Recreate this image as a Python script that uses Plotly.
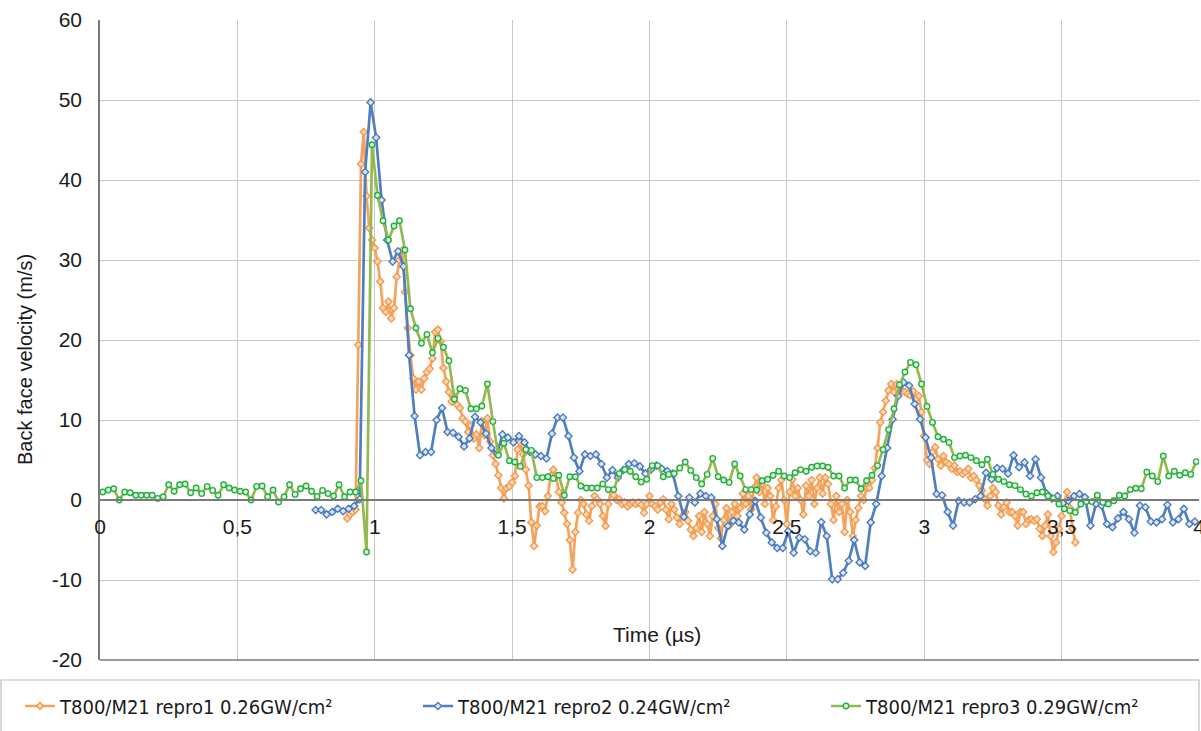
import numpy as np
import plotly.graph_objects as go

# ---------------- data ----------------
series_names = [
    "T800/M21 repro1 0.26GW/cm²",
    "T800/M21 repro2 0.24GW/cm²",
    "T800/M21 repro3 0.29GW/cm²",
]

# repro1 (orange): start 0.90 µs, step 0.01 µs
repro1_t0, repro1_dt = 0.90, 0.01
repro1_v = [
    -2.3, -1.8, -1.5, -1.2, 19.4, 42.0, 46.0, 38.0, 34.0, 32.5,      # 0.90
    31.5, 29.8, 27.3, 24.0, 23.5, 24.8, 22.7, 24.0, 27.9, 30.0,      # 1.00
    31.2, 26.0, 21.5, 18.1, 15.2, 13.8, 14.8, 13.8, 15.2, 16.0,      # 1.10
    16.4, 17.7, 21.0, 21.3, 19.8, 16.5, 14.8, 13.5, 12.3, 12.9,      # 1.20
    11.9, 11.5, 10.2, 9.8, 8.5, 9.3, 7.7, 8.2, 6.5, 9.8,             # 1.30
    8.1, 10.2, 7.3, 5.6, 4.5, 3.1, 1.5, 0.2, 1.5, 1.7,               # 1.40
    2.2, 3.0, 6.3, 7.2, 5.7, 3.8, 1.8, -2.8, -5.75, -3.2,            # 1.50
    -0.8, -0.75, -1.4, 0.5, 3.0, 3.8, 3.0, 1.0, -0.3, -1.6,          # 1.60
    -3.0, -5.0, -8.7, -4.0, -1.6, 0.0, -0.5, -1.8, -2.6, -0.75,      # 1.70
    0.5, 0.1, -0.5, -2.0, -3.25, -0.5, 1.1, 0.6, 0.0, 0.1,           # 1.80
    -0.5, -0.3, -0.8, -0.5, -0.3, -0.5, -0.3, -0.6, -1.6, -0.5,      # 1.90
    0.5, -0.5, -0.8, -1.2, -0.3, 0.1, -1.2, -2.4, -0.5, -1.2,        # 2.00
    -2.2, -3.0, -2.0, -1.5, -2.6, -3.7, -4.5, -3.5, -2.0, -4.0,      # 2.10
    -1.5, -3.0, -4.5, -2.0, -0.5, -3.5, -4.8, -2.5, -1.0, -3.2,      # 2.20
    -1.5, -0.5, -2.0, -1.0, 0.8, -0.5, 0.5, -1.2, 1.5, 2.8,          # 2.30
    1.0, 2.0, -0.5, 1.5, 0.5, -2.5, -0.8, 1.5, 2.5, 0.0,             # 2.40
    -3.0, 1.0, 2.6, 0.5, 1.5, 0.0, -1.8, 1.8, 0.5, 2.5,              # 2.50
    -0.5, 1.5, 2.8, 0.8, 2.8, 2.0, -0.5, -2.5, 0.5, -1.5,            # 2.60
    -0.5, -4.0, 0.0, -1.5, -4.5, -2.5, -1.0, 0.5, 0.0, 1.5,          # 2.70
    1.5, 2.5, 4.0, 6.5, 9.7, 11.0, 12.4, 13.7, 14.5, 13.5,           # 2.80
    14.5, 13.5, 13.7, 13.5, 13.25, 13.1, 13.6, 12.6, 13.0, 11.0,     # 2.90
    8.0, 5.0, 4.5, 6.0, 6.6, 5.1, 4.3, 5.5, 4.7, 4.5,                # 3.00
    3.9, 4.3, 3.5, 3.6, 3.25, 3.5, 3.9, 2.8, 3.0, 2.5,               # 3.10
    1.8, 1.2, 0.1, -0.7, 0.5, 1.5, 1.0, -0.7, -1.8, -0.9,            # 3.20
    -0.3, -1.5, -1.5, -2.0, -3.2, -1.5, -1.5, -3.0, -2.5, -2.4,      # 3.30
    -2.6, -2.4, -3.6, -4.5, -3.2, -1.8, -4.5, -6.5, -5.3, -3.6,      # 3.40
    -2.0, -0.3, 1.0, -1.0, -3.6, -5.3,                               # 3.50
]

# repro2 (blue): start 0.785 µs, step 0.02 µs
repro2_t0, repro2_dt = 0.785, 0.02
repro2_v = [
    -1.25, -1.25, -1.8, -1.5, -1.1, -1.4, -1.1, -0.75, 0.1, 41.0,
    49.7, 45.3, 37.5, 32.5, 29.8, 31.1, 29.2, 18.1, 10.5, 5.6,
    6.0, 6.0, 10.0, 11.5, 8.5, 8.4, 7.9, 6.7, 7.7, 10.4,
    9.7, 8.3, 6.5, 5.8, 8.2, 7.8, 7.2, 8.0, 7.2, 6.0,
    5.7, 5.5, 5.2, 8.3, 10.3, 10.3, 8.0, 5.3, 3.6, 5.7,
    5.5, 5.7, 4.5, 2.8, 3.75, 2.8, 3.75, 4.5, 4.6, 4.2,
    3.3, 3.8, 4.3, 3.9, 3.6, 3.3, 0.5, -2.1, 0.3, -0.3,
    0.8, 0.5, 0.3, -2.4, -5.75, -3.25, -2.6, -2.8, -3.7, -1.8,
    -0.1, -2.2, -4.1, -5.3, -6.0, -6.0, -3.9, -6.6, -4.7, -4.9,
    -6.4, -6.6, -2.75, -4.5, -9.9, -9.9, -9.1, -7.6, -5.0, -7.8,
    -8.25, -2.8, -0.5, 3.0, 6.5, 10.1, 13.0, 14.7, 14.3, 12.0,
    10.1, 7.8, 5.3, 0.75, 0.6, -1.5, -3.2, -0.1, -0.3, -0.3,
    0.1, 0.5, 3.4, 2.6, 4.0, 3.9, 3.3, 5.6, 4.1, 4.7,
    3.0, 5.1, 2.8, 0.8, 0.2, 0.5, -0.4, -0.1, 0.5, 0.75,
    0.33, -3.2, -0.5, -0.7, -3.0, -3.4, -2.3, -1.5, -2.4, -4.1,
    -0.7, -0.9, -2.7, -2.8, -2.4, -0.6, -2.8, -2.4, -1.1, -3.0,
    -2.7,
]

# repro3 (green): start 0.01 µs, step 0.02 µs
repro3_t0, repro3_dt = 0.01, 0.02
repro3_v = [
    1.0, 1.25, 1.4, 0.0, 1.0, 0.9, 0.6, 0.6, 0.6, 0.6,
    0.2, 0.4, 1.9, 1.1, 1.9, 2.0, 0.9, 1.5, 0.8, 1.7,
    1.2, 0.6, 1.9, 1.5, 1.25, 1.1, 1.0, 0.0, 1.7, 1.75,
    0.4, 1.25, -0.25, 0.4, 1.9, 0.7, 1.4, 1.75, 1.1, 0.45,
    1.2, 0.8, 0.5, 1.9, 0.4, 1.0, 1.0, 2.4, -6.5, 44.4,
    38.1, 34.9, 32.5, 34.25, 34.9, 31.25, 23.9, 21.5, 19.6, 20.7,
    18.4, 20.2, 19.1, 17.4, 12.6, 13.9, 13.7, 11.4, 11.4, 11.75,
    14.5, 9.8, 5.6, 7.1, 4.9, 4.75, 4.2, 6.3, 6.2, 2.8,
    2.8, 2.9, 2.7, 3.1, 0.6, 2.9, 2.9, 1.75, 1.5, 1.5,
    1.5, 2.0, 1.3, 1.3, 3.3, 3.8, 3.6, 2.9, 2.25, 2.6,
    4.3, 4.3, 2.9, 3.2, 3.3, 4.0, 4.75, 3.7, 2.8, 2.0,
    3.2, 5.2, 2.9, 2.5, 2.2, 4.5, 3.0, 1.3, 1.3, 1.25,
    2.4, 2.6, 3.1, 3.6, 3.0, 2.8, 3.4, 3.8, 3.6, 4.1,
    4.25, 4.25, 4.1, 3.0, 3.0, 1.5, 2.5, 2.5, 1.4, 2.4,
    3.1, 4.3, 6.3, 8.8, 11.4, 14.4, 16.0, 17.2, 16.9, 14.5,
    11.7, 9.7, 7.9, 7.6, 7.2, 5.3, 5.5, 5.6, 5.3, 4.9,
    4.4, 5.1, 3.2, 2.6, 2.3, 1.9, 1.8, 1.3, 0.75, 0.5,
    0.9, 1.0, 0.5, 0.2, -0.5, -1.1, -1.33, -1.54, -0.5, -0.2,
    -0.2, 0.6, -0.3, -0.5, -0.1, 0.6, 0.5, 1.3, 1.46, 1.4,
    3.5, 3.0, 2.3, 5.5, 3.0, 3.6, 3.1, 3.4, 3.2, 4.8,
]

x_tick_vals = [0, 0.5, 1, 1.5, 2, 2.5, 3, 3.5, 4]
x_tick_text = ["0", "0,5", "1", "1,5", "2", "2,5", "3", "3,5", "4"]
y_tick_vals = [-20, -10, 0, 10, 20, 30, 40, 50, 60]
y_tick_text = ["-20", "-10", "0", "10", "20", "30", "40", "50", "60"]

x_title = "Time (µs)"
y_title = "Back face velocity (m/s)"

# ---------------- styling ----------------
line_colors = ["#F5A35C", "#4F7FBE", "#93BA4E"]
marker_edges = ["#F39A4E", "#4A7BBD", "#25B040"]
marker_fills = ["#FBD9B8", "#DCE7F5", "#E3F6E3"]
symbols = ["diamond", "diamond", "circle"]
legend_ids = ["legend", "legend2", "legend3"]
legend_px = [20, 418, 826]   # left edge of each legend entry (px)

def times(t0, dt, vals):
    return np.round(t0 + dt * np.arange(len(vals)), 4)

data = [
    (times(repro1_t0, repro1_dt, repro1_v), repro1_v),
    (times(repro2_t0, repro2_dt, repro2_v), repro2_v),
    (times(repro3_t0, repro3_dt, repro3_v), repro3_v),
]

fig = go.Figure()
for i, (t, v) in enumerate(data):
    fig.add_trace(go.Scatter(
        x=t, y=v, mode="lines+markers", name=series_names[i],
        legend=legend_ids[i],
        line=dict(color=line_colors[i], width=2.7),
        marker=dict(symbol=symbols[i], size=5.5, color=marker_fills[i],
                    line=dict(color=marker_edges[i], width=1.4)),
    ))

L, R, T, B = 100, 2, 20, 71
W, H = 1201, 731
pw, ph = W - L - R, H - T - B

legend_font = dict(family="Liberation Sans Narrow, DejaVu Sans Condensed, Arial Narrow, sans-serif",
                   size=20, color="#1a1a1a")
legends = {}
for i, lid in enumerate(legend_ids):
    legends[lid] = dict(
        orientation="h", x=(legend_px[i] - L) / pw, xanchor="left",
        y=(ph + T - 706) / ph, yanchor="middle",
        font=legend_font, bgcolor="rgba(0,0,0,0)", borderwidth=0,
        itemsizing="trace",
    )

fig.update_layout(
    width=W, height=H,
    margin=dict(l=L, r=R, t=T, b=B, pad=0, autoexpand=False),
    paper_bgcolor="white", plot_bgcolor="white",
    font=dict(family="Liberation Sans, Arial, sans-serif", size=20, color="#1a1a1a"),
    showlegend=True,
    xaxis=dict(
        range=[0, 4], tickvals=x_tick_vals, ticktext=x_tick_text,
        showgrid=True, gridcolor="#C8C8C8", gridwidth=1.3,
        zeroline=False, showline=True, linecolor="#7a7a7a", linewidth=1.6,
        anchor="free", position=0.25, ticks="", ticklabelstandoff=8,
        tickfont=dict(size=21), automargin=False, ticklabeloverflow="allow",
    ),
    yaxis=dict(
        range=[-20, 60], tickvals=y_tick_vals, ticktext=y_tick_text,
        showgrid=True, gridcolor="#C8C8C8", gridwidth=1.3,
        zeroline=False, showline=True, linecolor="#7a7a7a", linewidth=1.6,
        ticks="", ticklabelstandoff=12, tickfont=dict(size=21), automargin=False,
    ),
    **legends,
)

# bottom frame line at the lower edge of the plot
fig.add_shape(type="line", xref="paper", yref="paper", x0=0, x1=1, y0=0, y1=0,
              line=dict(color="#7a7a7a", width=1.6), layer="above")
# legend box spanning the chart width
fig.add_shape(type="rect", xref="paper", yref="paper",
              x0=(1 - L) / pw, x1=1.0,
              y0=(ph + T - 733) / ph, y1=(ph + T - 680) / ph,
              line=dict(color="#BDBDBD", width=1.2), fillcolor="rgba(0,0,0,0)")

fig.add_annotation(text=x_title, xref="paper", yref="paper",
                   x=(657 - L) / pw, y=(ph + T - 634) / ph,
                   xanchor="center", yanchor="middle", showarrow=False,
                   font=dict(size=21, color="#1a1a1a"))
fig.add_annotation(text=y_title, xref="paper", yref="paper",
                   x=(25 - L) / pw, y=(ph + T - 360) / ph, textangle=-90,
                   xanchor="center", yanchor="middle", showarrow=False,
                   font=dict(size=20, color="#1a1a1a"))

fig.write_html("out.html", config={"displayModeBar": False},
               post_script="document.body.style.margin='0px';")
